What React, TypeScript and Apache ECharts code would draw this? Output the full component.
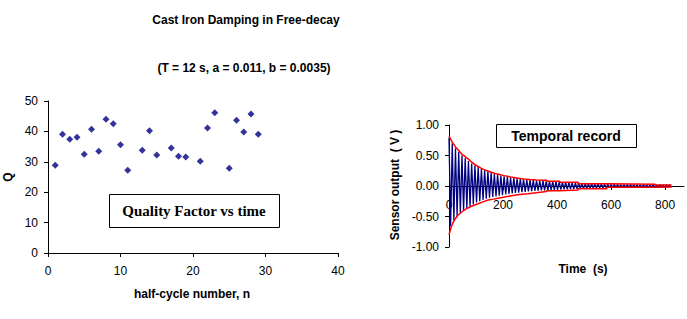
import React, { useEffect, useRef } from "react";
import * as echarts from "echarts";

// Left chart: quality factor per half-cycle
const halfCycle = [1, 2, 3, 4, 5, 6, 7, 8, 9, 10, 11, 13, 14, 15, 17, 18, 19, 21, 22, 23, 25, 26, 27, 28, 29];
const qValues = [28.9, 39.1, 37.4, 38.1, 32.5, 40.7, 33.5, 44.0, 42.5, 35.6, 27.2, 33.8, 40.2, 32.2, 34.5, 31.8, 31.6, 30.2, 41.1, 46.1, 27.9, 43.7, 39.8, 45.7, 39.1];

// Right chart: temporal record (peak and trough of each 12 s cycle)
const PERIOD = 12;
const peakValues = [
  0.79, 0.70, 0.62, 0.56, 0.50, 0.46, 0.41, 0.37, 0.34, 0.31,
  0.28, 0.26, 0.24, 0.22, 0.20, 0.19, 0.17, 0.16, 0.15, 0.14,
  0.135, 0.125, 0.12, 0.11, 0.105, 0.10, 0.095, 0.09, 0.087, 0.084,
  0.08, 0.076, 0.073, 0.07, 0.067, 0.063, 0.06, 0.058, 0.055, 0.052,
  0.05, 0.046, 0.044, 0.042, 0.04, 0.038, 0.036, 0.034, 0.032, 0.03,
  0.028, 0.027, 0.026, 0.025, 0.024, 0.023, 0.022, 0.021, 0.02, 0.02,
  0.019, 0.018, 0.018, 0.017, 0.02, 0.022, 0.02, 0.021, 0.018,
];
const troughValues = [
  -0.66, -0.56, -0.49, -0.44, -0.40, -0.36, -0.33, -0.30, -0.27, -0.25,
  -0.23, -0.21, -0.19, -0.18, -0.17, -0.16, -0.15, -0.14, -0.13, -0.12,
  -0.115, -0.11, -0.10, -0.095, -0.09, -0.085, -0.08, -0.077, -0.074, -0.071,
  -0.068, -0.065, -0.062, -0.06, -0.058, -0.056, -0.054, -0.052, -0.05, -0.048,
  -0.045, -0.043, -0.041, -0.039, -0.037, -0.035, -0.033, -0.031, -0.03, -0.028,
  -0.027, -0.025, -0.024, -0.023, -0.022, -0.021, -0.02, -0.02, -0.019, -0.018,
  -0.018, -0.017, -0.016, -0.016, -0.015, -0.02, -0.018, -0.02, -0.015,
];

// Envelopes
const envUpTime = [0, 12, 24, 36, 48, 60, 72, 84, 96, 108, 120, 132, 144, 156, 168, 180, 204, 228, 252, 276, 300, 324, 348, 361, 361, 410, 410, 478, 478, 584, 584, 763, 763, 824];
const envUpValues = [0.82, 0.72, 0.64, 0.58, 0.52, 0.48, 0.44, 0.39, 0.35, 0.32, 0.29, 0.265, 0.245, 0.225, 0.21, 0.195, 0.17, 0.148, 0.13, 0.115, 0.105, 0.097, 0.093, 0.093, 0.077, 0.077, 0.06, 0.06, 0.038, 0.038, 0.027, 0.027, 0.015, 0.015];
const envLoTime = [0, 9, 21, 33, 46, 58, 70, 89, 108, 126, 145, 164, 182, 206, 231, 262, 293, 330, 361, 361, 410, 410, 478, 478, 584, 584, 763, 763, 824];
const envLoValues = [-0.80, -0.66, -0.55, -0.48, -0.43, -0.39, -0.36, -0.32, -0.29, -0.26, -0.23, -0.215, -0.20, -0.18, -0.16, -0.14, -0.126, -0.105, -0.09, -0.077, -0.077, -0.066, -0.066, -0.044, -0.044, -0.022, -0.022, -0.016, -0.016];

const leftXTicks = [0, 10, 20, 30, 40];
const rightXTicks = [0, 200, 400, 600, 800];

const SANS = "'Liberation Sans', Arial, sans-serif";
const SERIF = "'Liberation Serif', 'Times New Roman', serif";

export default function App() {
  const ref = useRef<HTMLDivElement>(null);
  useEffect(() => {
    if (!ref.current) return;
    const chart = echarts.init(ref.current, undefined, { renderer: "svg" });

    const zigzag: number[][] = [];
    for (let i = 0; i < peakValues.length; i++) {
      zigzag.push([i * PERIOD, peakValues[i]]);
      zigzag.push([i * PERIOD + PERIOD / 2, troughValues[i]]);
    }
    const upper = envUpTime.map((t, i) => [t, envUpValues[i]]);
    const lower = envLoTime.map((t, i) => [t, envLoValues[i]]);

    const axisLine = { lineStyle: { color: "#000", width: 1 } };
    const labelStyle = { color: "#000", fontFamily: SANS, fontSize: 12 };

    chart.setOption({
      animation: false,
      backgroundColor: "#fff",
      grid: [
        { left: 48, top: 101, width: 290, height: 152 },
        { left: 449, top: 125, width: 235, height: 122 },
      ],
      xAxis: [
        {
          gridIndex: 0, type: "value", min: 0, max: 40, interval: 10,
          axisLine, splitLine: { show: false },
          axisTick: { show: true, length: 4, lineStyle: { color: "#000" } },
          axisLabel: { ...labelStyle, margin: 12, customValues: leftXTicks },
        },
        {
          gridIndex: 1, type: "value", min: 0, max: 870,
          position: "bottom", offset: -61,
          axisLine: { ...axisLine, onZero: false },
          splitLine: { show: false },
          axisTick: { show: true, length: 4, lineStyle: { color: "#000" }, customValues: rightXTicks },
          axisLabel: { ...labelStyle, margin: 13, customValues: rightXTicks },
        },
      ],
      yAxis: [
        {
          gridIndex: 0, type: "value", min: 0, max: 50, interval: 10,
          axisLine: { show: true, lineStyle: { color: "#000" } },
          splitLine: { show: false },
          axisTick: { show: true, length: 4, lineStyle: { color: "#000" } },
          axisLabel: { ...labelStyle, margin: 10 },
        },
        {
          gridIndex: 1, type: "value", min: -1, max: 1, interval: 0.5,
          axisLine: { show: true, lineStyle: { color: "#000" } },
          splitLine: { show: false },
          axisTick: { show: true, length: 4, lineStyle: { color: "#000" } },
          axisLabel: { ...labelStyle, margin: 10, formatter: (v: number) => v.toFixed(2) },
        },
      ],
      series: [
        {
          type: "scatter", xAxisIndex: 0, yAxisIndex: 0,
          data: halfCycle.map((n, i) => [n, qValues[i]]),
          symbol: "diamond", symbolSize: 7,
          itemStyle: { color: "#000080" },
        },
        {
          type: "line", xAxisIndex: 1, yAxisIndex: 1, data: zigzag,
          showSymbol: false, lineStyle: { color: "#000080", width: 1.3 },
        },
        {
          type: "line", xAxisIndex: 1, yAxisIndex: 1, data: upper,
          showSymbol: false, lineStyle: { color: "#ff0000", width: 1.5 },
        },
        {
          type: "line", xAxisIndex: 1, yAxisIndex: 1, data: lower,
          showSymbol: false, lineStyle: { color: "#ff0000", width: 1.5 },
        },
      ],
      graphic: [
        { type: "text", x: 246, y: 20, style: { text: "Cast Iron Damping in Free-decay", fontFamily: SANS, fontSize: 12, fontWeight: "bold", fill: "#000", align: "center", verticalAlign: "middle" } },
        { type: "text", x: 244, y: 68, style: { text: "(T = 12 s, a = 0.011, b = 0.0035)", fontFamily: SANS, fontSize: 12, fontWeight: "bold", fill: "#000", align: "center", verticalAlign: "middle" } },
        { type: "text", x: 8, y: 177, rotation: Math.PI / 2, style: { text: "Q", fontFamily: SANS, fontSize: 12, fontWeight: "bold", fill: "#000", align: "center", verticalAlign: "middle" } },
        { type: "text", x: 192, y: 294, style: { text: "half-cycle number, n", fontFamily: SANS, fontSize: 12, fontWeight: "bold", fill: "#000", align: "center", verticalAlign: "middle" } },
        { type: "text", x: 395, y: 185, rotation: Math.PI / 2, style: { text: "Sensor output  ( V )", fontFamily: SANS, fontSize: 12, fontWeight: "bold", fill: "#000", align: "center", verticalAlign: "middle" } },
        { type: "text", x: 583, y: 269, style: { text: "Time  (s)", fontFamily: SANS, fontSize: 12, fontWeight: "bold", fill: "#000", align: "center", verticalAlign: "middle" } },
        { type: "rect", shape: { x: 109.5, y: 194.5, width: 170, height: 33 }, style: { fill: "#fff", stroke: "#000", lineWidth: 1 } },
        { type: "text", x: 194, y: 211, style: { text: "Quality Factor vs time", fontFamily: SERIF, fontSize: 15, fontWeight: "bold", fill: "#000", align: "center", verticalAlign: "middle" } },
        { type: "rect", shape: { x: 496.5, y: 124.5, width: 140, height: 23 }, style: { fill: "#fff", stroke: "#000", lineWidth: 1 } },
        { type: "text", x: 566, y: 136, style: { text: "Temporal record", fontFamily: SANS, fontSize: 14, fontWeight: "bold", fill: "#000", align: "center", verticalAlign: "middle" } },
      ],
    });
    return () => chart.dispose();
  }, []);
  return <div ref={ref} style={{ position: "absolute", left: 0, top: 0, width: 687, height: 319 }} />;
}
